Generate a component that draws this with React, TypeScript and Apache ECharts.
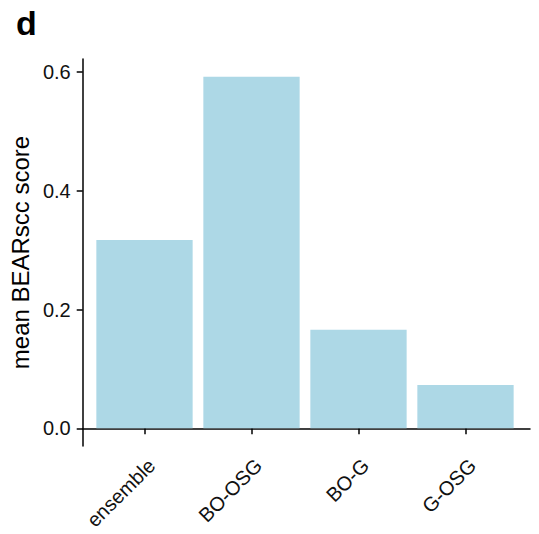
import React, { useEffect, useRef } from "react";
import * as echarts from "echarts";

const categories = ["ensemble", "BO-OSG", "BO-G", "G-OSG"];
const scores = [0.317, 0.592, 0.166, 0.073];
const yTicks = [0, 0.2, 0.4, 0.6];
const yLabel = "mean BEARscc score";
const panelLetter = "d";

const FONT = "'Liberation Sans', Arial, Helvetica, sans-serif";
const Y_MIN = -0.0297;
const Y_MAX = 0.622;

export default function App() {
  const ref = useRef<HTMLDivElement>(null);
  useEffect(() => {
    if (!ref.current) return;
    const chart = echarts.init(ref.current, null, { renderer: "svg" });
    chart.setOption({
      animation: false,
      backgroundColor: "#ffffff",
      textStyle: { fontFamily: FONT },
      title: {
        text: panelLetter,
        left: 11,
        top: 1,
        textStyle: { fontFamily: FONT, fontSize: 34, fontWeight: "bold", color: "#000" },
      },
      grid: [
        { left: 80, right: 9, top: 59, bottom: 88 },
        { left: 91, right: 20, top: 59, bottom: 88 },
      ],
      xAxis: [
        {
          type: "value",
          gridIndex: 0,
          min: 0,
          max: 1,
          axisLine: { show: true, lineStyle: { color: "#000", width: 1.5 } },
          axisTick: { show: false },
          axisLabel: { show: false },
          splitLine: { show: false },
        },
        {
          type: "category",
          gridIndex: 1,
          data: categories,
          axisLine: { show: false },
          axisTick: { show: true, alignWithLabel: true, length: 6, lineStyle: { color: "#000", width: 1.5 } },
          axisLabel: {
            rotate: 45,
            align: "right",
            verticalAlign: "top",
            margin: 9,
            fontSize: 20,
            color: "#111",
            fontFamily: FONT,
          },
          splitLine: { show: false },
        },
      ],
      yAxis: [
        {
          type: "value",
          gridIndex: 0,
          min: Y_MIN,
          max: Y_MAX,
          name: yLabel,
          nameLocation: "middle",
          nameGap: 44,
          nameRotate: 90,
          nameTextStyle: { fontSize: 24, color: "#000", fontFamily: FONT },
          axisLine: { show: true, lineStyle: { color: "#000", width: 1.5 } },
          axisTick: { show: true, length: 6, customValues: yTicks, lineStyle: { color: "#000", width: 1.5 } },
          axisLabel: {
            customValues: yTicks,
            margin: 12,
            fontSize: 20,
            color: "#111",
            fontFamily: FONT,
            formatter: (v: number) => v.toFixed(1),
          },
          splitLine: { show: false },
        },
        {
          type: "value",
          gridIndex: 1,
          min: Y_MIN,
          max: Y_MAX,
          show: false,
          splitLine: { show: false },
        },
      ],
      series: [
        {
          type: "bar",
          xAxisIndex: 1,
          yAxisIndex: 1,
          data: scores,
          barWidth: "90%",
          itemStyle: { color: "#ADD8E6" },
        },
      ],
    });
    return () => chart.dispose();
  }, []);
  return (
    <div
      ref={ref}
      style={{ position: "fixed", left: 0, top: 0, width: 539, height: 534, background: "#fff" }}
    />
  );
}
